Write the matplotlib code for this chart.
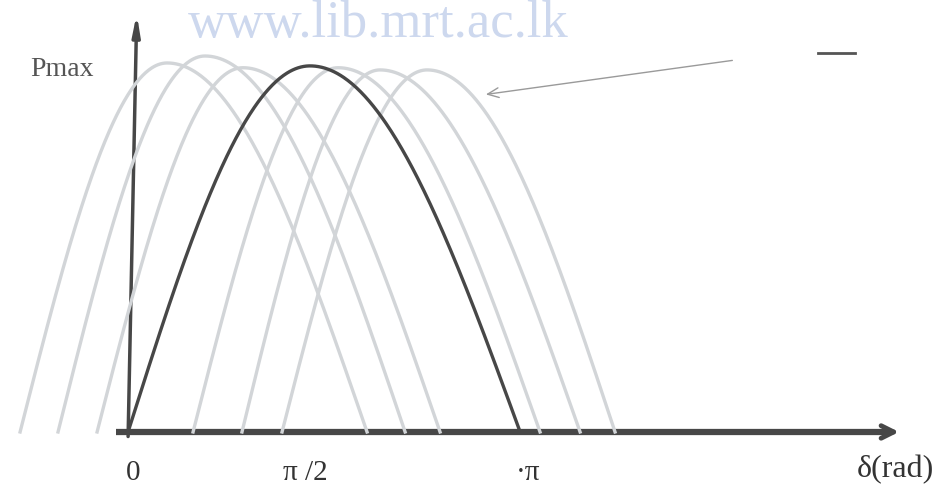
#!/usr/bin/env python3
"""Power-angle curves: base P = Pmax sin(delta) and a family of shifted curves."""

import numpy as np
import matplotlib
matplotlib.use("Agg")
import matplotlib.pyplot as plt

plt.rcParams.update({
    'font.family': ['Liberation Serif', 'DejaVu Serif'],
})

# Shifted (light) curves, angles in rad, height in Pmax
shift_start = [-0.865, -0.561, -0.248, 0.521, 0.913, 1.234]
shift_peak = [0.313, 0.617, 0.921, 1.683, 2.019, 2.396]
shift_end = [1.915, 2.220, 2.500, 3.301, 3.622, 3.902]
shift_amp = [1.008, 1.027, 0.995, 0.995, 0.989, 0.989]

# Main (dark) curve
main_start, main_peak, main_end, main_amp = 0.0, 1.458, np.pi, 1.0

tick_pos = [0.04, 1.418, 3.205]
tick_text = ['0', 'π /2', '·π']

LIGHT = '#d2d5d8'
DARK = '#474747'


def arc(start, peak, end, amp, n=200):
    # quarter sine up to the peak, quarter cosine down from it
    xl = np.linspace(start, peak, n)
    yl = amp * np.sin((xl - start) / (peak - start) * np.pi / 2)
    xr = np.linspace(peak, end, n)
    yr = amp * np.cos((xr - peak) / (end - peak) * np.pi / 2)
    return np.concatenate([xl, xr]), np.concatenate([yl, yr])


fig = plt.figure(figsize=(9.46, 4.92), dpi=100)
ax = fig.add_axes([0, 0, 1, 1])
ax.set_xlim(-1.026, 6.554)
ax.set_ylim(-0.164, 1.180)
ax.axis('off')

# axes drawn by hand, like the scanned figure
ax.plot([-0.10, 6.10], [0, 0], color=DARK, lw=4.5, solid_capstyle='butt', zorder=2)
ax.annotate('', xy=(6.20, 0), xytext=(6.0, 0),
            arrowprops=dict(arrowstyle='->,head_length=0.9,head_width=0.45',
                            color=DARK, lw=3.5), zorder=2)
ax.annotate('', xy=(0.07, 1.150), xytext=(0.0, -0.02),
            arrowprops=dict(arrowstyle='-|>,head_length=1.2,head_width=0.22',
                            color=DARK, lw=2.5), zorder=2)

for s, p, e, a in zip(shift_start, shift_peak, shift_end, shift_amp):
    x, y = arc(s, p, e, a)
    ax.plot(x, y, color=LIGHT, lw=2.4, zorder=3)

x, y = arc(main_start, main_peak, main_end, main_amp)
ax.plot(x, y, color=DARK, lw=2.4, zorder=4)

# pointer to the shifted curves
ax.annotate('', xy=(2.845, 0.921), xytext=(4.864, 1.016),
            arrowprops=dict(arrowstyle='->,head_length=0.8,head_width=0.35',
                            color='#9a9a9a', lw=1.0))
ax.plot([5.529, 5.825], [1.036, 1.036], color='#555555', lw=2.0)

for xp, t in zip(tick_pos, tick_text):
    ax.text(xp, -0.112, t, ha='center', va='center', fontsize=21, color='#333333')
ax.text(6.15, -0.104, 'δ(rad)', ha='center', va='center', fontsize=23, color='#333333')
ax.text(-0.529, 0.989, 'Pmax', ha='center', va='center', fontsize=20, color='#555555')

# library watermark from the scan
ax.text(2.003, 1.115, 'www.lib.mrt.ac.lk', ha='center', va='center', fontsize=38,
        color='#cdd8ee')

fig.savefig('out.png', dpi=100)
